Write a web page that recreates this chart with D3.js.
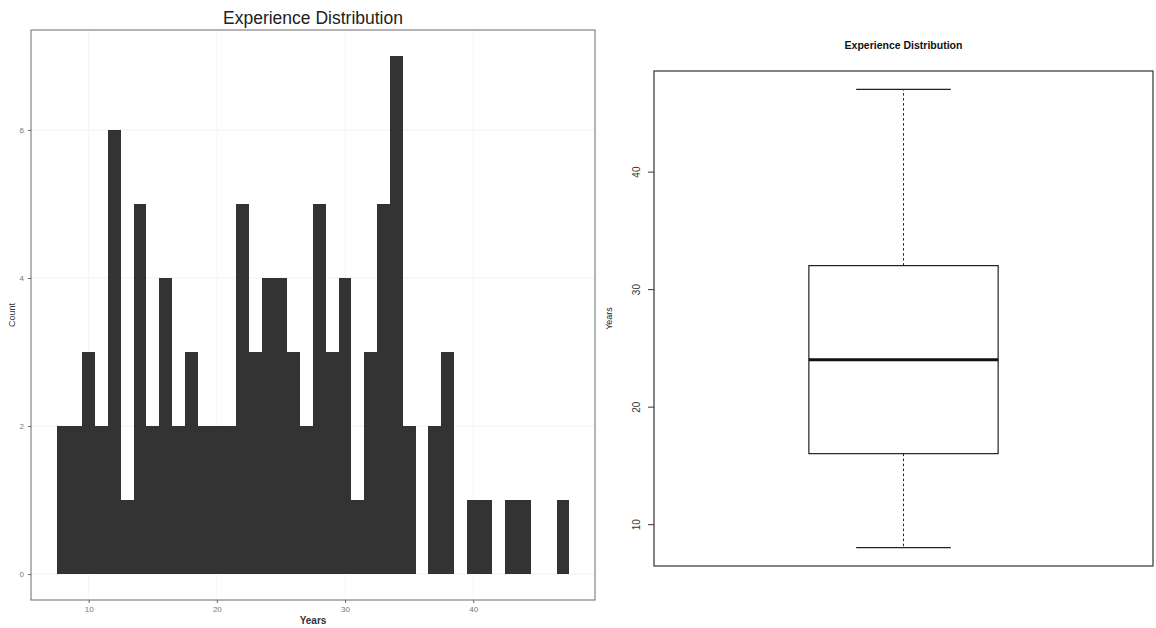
<!DOCTYPE html>
<html>
<head>
<meta charset="utf-8">
<script src="https://cdn.jsdelivr.net/npm/d3@7"></script>
<style>
  html, body { margin: 0; padding: 0; background: #fff; }
  svg { display: block; font-family: "Liberation Sans", Arial, sans-serif; }
</style>
</head>
<body>
<svg id="chart" width="1156" height="628"></svg>
<script>
// histogram bins (bin centre, one year wide) and their counts
const years = [8, 9, 10, 11, 12, 13, 14, 15, 16, 17, 18, 19, 20, 21, 22, 23, 24, 25, 26, 27,
               28, 29, 30, 31, 32, 33, 34, 35, 36, 37, 38, 39, 40, 41, 42, 43, 44, 45, 46, 47]
const counts = [2, 2, 3, 2, 6, 1, 5, 2, 4, 2, 3, 2, 2, 2, 5, 3, 4, 4, 3, 2,
                5, 3, 4, 1, 3, 5, 7, 2, 0, 2, 3, 0, 1, 1, 0, 1, 1, 0, 0, 1]
const histXTicks = [10, 20, 30, 40]
const histYTicks = [0, 2, 4, 6]

// boxplot: min, lower hinge, median, upper hinge, max
const boxStats = [8, 16, 24, 32, 47]
const boxYTicks = [10, 20, 30, 40]

const titleText = "Experience Distribution"

const svg = d3.select("#chart")

// ---------- left: histogram ----------
const hist = { left: 31, right: 595, top: 30, bottom: 600 }

const x = d3.scaleLinear().domain([5.5, 49.5]).range([hist.left, hist.right])
const y = d3.scaleLinear().domain([-0.35, 7.35]).range([hist.bottom, hist.top])

const left = svg.append("g")

// very faint grid
left.append("g")
    .selectAll("line.h")
    .data(histYTicks)
    .join("line")
    .attr("x1", hist.left).attr("x2", hist.right)
    .attr("y1", d => y(d)).attr("y2", d => y(d))
    .attr("stroke", "#f1f1f1").attr("stroke-width", 1)

left.append("g")
    .selectAll("line.v")
    .data(histXTicks)
    .join("line")
    .attr("x1", d => x(d)).attr("x2", d => x(d))
    .attr("y1", hist.top).attr("y2", hist.bottom)
    .attr("stroke", "#f5f5f5").attr("stroke-width", 1)

left.append("g")
    .selectAll("rect")
    .data(years.map((yr, i) => ({ yr, n: counts[i] })).filter(d => d.n > 0))
    .join("rect")
    .attr("x", d => x(d.yr - 0.5))
    .attr("width", d => x(d.yr + 0.5) - x(d.yr - 0.5))
    .attr("y", d => y(d.n))
    .attr("height", d => y(0) - y(d.n))
    .attr("fill", "#333333")
    .attr("shape-rendering", "crispEdges")

left.append("rect")
    .attr("x", hist.left).attr("y", hist.top)
    .attr("width", hist.right - hist.left)
    .attr("height", hist.bottom - hist.top)
    .attr("fill", "none")
    .attr("stroke", "#6a6a6a")
    .attr("stroke-width", 1)

const xAxis = left.append("g")
    .attr("transform", `translate(0,${hist.bottom})`)
    .call(d3.axisBottom(x).tickValues(histXTicks).tickSize(3).tickPadding(3))
xAxis.select(".domain").remove()
xAxis.selectAll("line").attr("stroke", "#666")
xAxis.selectAll("text").attr("fill", "#777").attr("font-size", 8)

const yAxis = left.append("g")
    .attr("transform", `translate(${hist.left},0)`)
    .call(d3.axisLeft(y).tickValues(histYTicks).tickSize(3).tickPadding(4))
yAxis.select(".domain").remove()
yAxis.selectAll("line").attr("stroke", "#666")
yAxis.selectAll("text").attr("fill", "#777").attr("font-size", 8)

left.append("text")
    .attr("x", (hist.left + hist.right) / 2).attr("y", 24)
    .attr("text-anchor", "middle")
    .attr("font-size", 17.5)
    .attr("fill", "#222")
    .text(titleText)

left.append("text")
    .attr("x", (hist.left + hist.right) / 2).attr("y", 624)
    .attr("text-anchor", "middle")
    .attr("font-size", 10)
    .attr("font-weight", "bold")
    .attr("fill", "#333")
    .text("Years")

left.append("text")
    .attr("transform", `translate(15,${(hist.top + hist.bottom) / 2}) rotate(-90)`)
    .attr("text-anchor", "middle")
    .attr("font-size", 9)
    .attr("fill", "#333")
    .text("Count")

// ---------- right: boxplot ----------
const box = { left: 654, right: 1153, top: 71, bottom: 566 }

const by = d3.scaleLinear().domain([6.44, 48.56]).range([box.bottom, box.top])
const bx = d3.scaleBand().domain(["Years"]).range([box.left, box.right]).padding(0.45)

const right = svg.append("g")

const [lo, q1, med, q3, hi] = boxStats
const cx = bx("Years") + bx.bandwidth() / 2
const half = bx.bandwidth() / 2

// whiskers
right.append("g")
    .selectAll("line")
    .data([[q3, hi], [q1, lo]])
    .join("line")
    .attr("x1", cx).attr("x2", cx)
    .attr("y1", d => by(d[0])).attr("y2", d => by(d[1]))
    .attr("stroke", "#222").attr("stroke-width", 1)
    .attr("stroke-dasharray", "2.5,2.5")

// staples
right.append("g")
    .selectAll("line")
    .data([hi, lo])
    .join("line")
    .attr("x1", cx - half / 2).attr("x2", cx + half / 2)
    .attr("y1", d => by(d)).attr("y2", d => by(d))
    .attr("stroke", "#222").attr("stroke-width", 1.2)

right.append("rect")
    .attr("x", bx("Years")).attr("width", bx.bandwidth())
    .attr("y", by(q3)).attr("height", by(q1) - by(q3))
    .attr("fill", "none")
    .attr("stroke", "#222").attr("stroke-width", 1.2)

right.append("line")
    .attr("x1", bx("Years")).attr("x2", bx("Years") + bx.bandwidth())
    .attr("y1", by(med)).attr("y2", by(med))
    .attr("stroke", "#111").attr("stroke-width", 3)

right.append("rect")
    .attr("x", box.left).attr("y", box.top)
    .attr("width", box.right - box.left)
    .attr("height", box.bottom - box.top)
    .attr("fill", "none")
    .attr("stroke", "#333").attr("stroke-width", 1.2)

const byAxis = right.append("g")
    .attr("transform", `translate(${box.left},0)`)
    .call(d3.axisLeft(by).tickValues(boxYTicks).tickSize(6).tickPadding(0))
byAxis.select(".domain").remove()
byAxis.selectAll("line").attr("stroke", "#333")
byAxis.selectAll("text")
    .attr("fill", "#333")
    .attr("font-size", 10)
    .attr("dy", null)
    .attr("x", null)
    .attr("text-anchor", "middle")
    .attr("transform", "translate(-14,0) rotate(-90)")

right.append("text")
    .attr("x", (box.left + box.right) / 2).attr("y", 49)
    .attr("text-anchor", "middle")
    .attr("font-size", 10.5)
    .attr("font-weight", "bold")
    .attr("fill", "#111")
    .text(titleText)

right.append("text")
    .attr("transform", `translate(612,${(box.top + box.bottom) / 2}) rotate(-90)`)
    .attr("text-anchor", "middle")
    .attr("font-size", 9)
    .attr("fill", "#222")
    .text("Years")
</script>
</body>
</html>
